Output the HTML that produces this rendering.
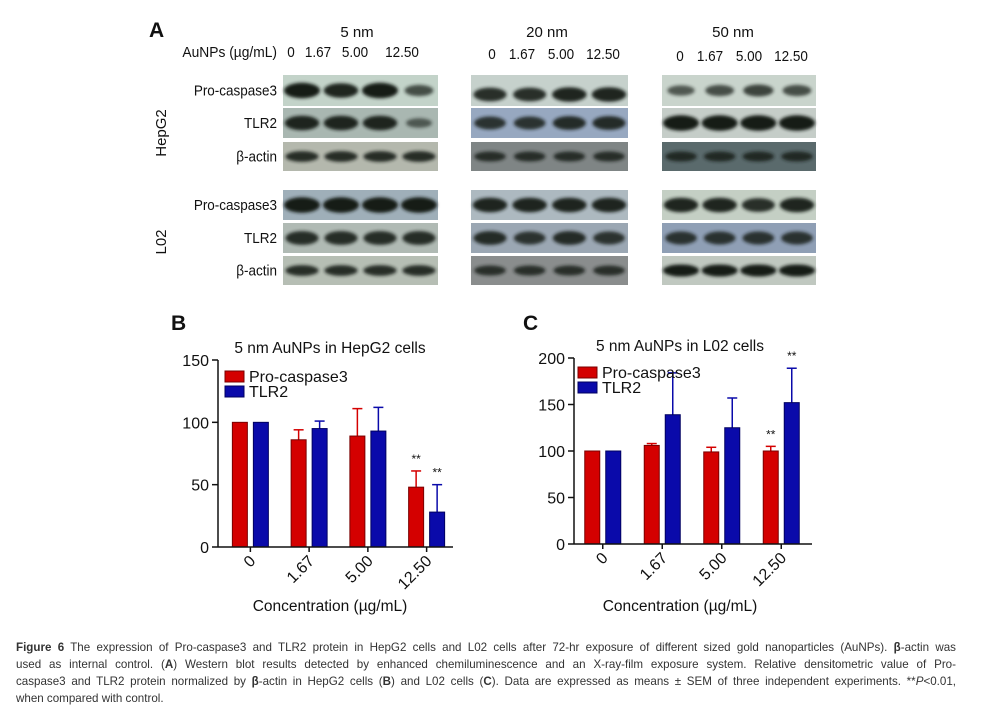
<!DOCTYPE html>
<html><head><meta charset="utf-8"><style>
body{margin:0;background:#fff;width:982px;height:719px;overflow:hidden;font-family:"Liberation Sans",Arial,sans-serif}
svg text{font-family:"Liberation Sans",Arial,sans-serif}
.cap{position:absolute;left:16px;width:940px;font-size:11.6px;color:#333;line-height:17px;top:639px}
.cap div{text-align:justify;text-align-last:justify;white-space:nowrap;overflow:visible}
.cap div.last{text-align-last:left}
</style></head><body>
<svg id="fig" width="982" height="635" style="position:absolute;left:0;top:0">
<defs><filter id="bl" x="-20%" y="-50%" width="140%" height="200%"><feGaussianBlur stdDeviation="1.5"/></filter></defs>
<g id="blot"></g>
<g id="chartB"></g>
<g id="chartC"></g>
</svg>
<div class="cap">
<div><b>Figure 6</b> The expression of Pro-caspase3 and TLR2 protein in HepG2 cells and L02 cells after 72-hr exposure of different sized gold nanoparticles (AuNPs). <b>β</b>-actin was</div>
<div>used as internal control. (<b>A</b>) Western blot results detected by enhanced chemiluminescence and an X-ray-film exposure system. Relative densitometric value of Pro-</div>
<div>caspase3 and TLR2 protein normalized by <b>β</b>-actin in HepG2 cells (<b>B</b>) and L02 cells (<b>C</b>). Data are expressed as means ± SEM of three independent experiments. **<i>P</i>&lt;0.01,</div>
<div class="last">when compared with control.</div>
</div>
<script>
const NS='http://www.w3.org/2000/svg';
function mk(p,tag,a,txt){const e=document.createElementNS(NS,tag);for(const k in a)e.setAttribute(k,a[k]);if(txt!==undefined)e.textContent=txt;p.appendChild(e);return e;}
// ---------- Blot ----------
const blot=document.getElementById('blot');
const panelX=[283,471,662],panelW=[155,157,154];
const rowY=[75,108,142,190,223,256],rowH=[31,30,29,30,30,29];
const rowNames=['Pro-caspase3','TLR2','β-actin','Pro-caspase3','TLR2','β-actin'];
const bg=[['#c3d3c9','#a9b7b1','#b4b8ad','#9fafb9','#b0bab4','#b6beb4'],
['#c6d1cc','#97a8c0','#7f8585','#adb9c0','#9ba7b3','#8a8d8d'],
['#c9d4cc','#c5cdc8','#5a6a6c','#c4cfc4','#8f9fb5','#c0c8c0']];
const bandInt=[[[1,.9,1,.5],[.9,.9,.9,.3],[.8,.8,.8,.8],[1,1,1,1],[.8,.8,.8,.8],[.8,.8,.8,.8]],
[[.8,.8,.9,.9],[.7,.7,.8,.8],[.7,.7,.7,.7],[.9,.9,.9,.9],[.8,.7,.8,.7],[.7,.7,.7,.7]],
[[.4,.5,.6,.5],[1,1,1,1],[.7,.7,.7,.7],[.9,.9,.8,.9],[.7,.7,.7,.7],[1,1,1,1]]];
const mkText=(p,x,y,t,o)=>mk(p,'text',Object.assign({x:x,y:y,'font-size':15,fill:'#111'},o||{}),t);
const cond='scale(0.9,1)';
let t=mkText(blot,149,37,'A',{'font-size':21,'font-weight':'bold'});
['5 nm','20 nm','50 nm'].forEach((s,i)=>{const e=mkText(blot,[357,547,733][i],37,s,{'text-anchor':'middle'});});
t=mkText(blot,0,0,'AuNPs (µg/mL)',{'text-anchor':'end',transform:'translate(277,57) scale(0.92,1)'});
const doseL=['0','1.67','5.00','12.50'];
const doseX=[[291,318,355,402],[492,522,561,603],[680,710,749,791]],doseY=[57,59,61];
doseX.forEach((xs,i)=>xs.forEach((x,j)=>{const e=mkText(blot,0,0,doseL[j],{'text-anchor':'middle',transform:`translate(${x},${doseY[i]}) ${cond}`});}));
rowNames.forEach((n,r)=>{const e=mkText(blot,0,0,n,{'text-anchor':'end',transform:`translate(277,${rowY[r]+rowH[r]/2+5}) ${cond}`});});
t=mkText(blot,0,0,'HepG2',{transform:'translate(166,133) rotate(-90)','text-anchor':'middle'});
t=mkText(blot,0,0,'L02',{transform:'translate(166,242) rotate(-90)','text-anchor':'middle'});
for(let p=0;p<3;p++)for(let r=0;r<6;r++){
 const g=mk(blot,'g',{});
 mk(g,'rect',{x:panelX[p],y:rowY[r],width:panelW[p],height:rowH[r],fill:bg[p][r]});
 const cy=rowY[r]+rowH[r]/2+(p==1&&r==0?4:0);
 for(let l=0;l<4;l++){const k=bandInt[p][r][l];const cx=panelX[p]+19+l*(panelW[p]-38)/3;
  mk(g,'ellipse',{cx:cx,cy:cy,rx:18*(0.6+0.4*k),ry:(r%3==2?5.5:7)*(0.5+0.6*k),fill:'#141a19',opacity:0.45+0.55*k,filter:'url(#bl)'});}
}
// ---------- Bar charts ----------
const categories=['0','1.67','5.00','12.50'];
const b_pro=[100,86,89,48], b_proErr=[0,8,22,13];
const b_tlr=[100,95,93,28], b_tlrErr=[0,6,19,22];
const c_pro=[100,106,99,100], c_proErr=[0,2,5,5];
const c_tlr=[100,139,125,152], c_tlrErr=[0,45,32,37];
const b_ticks=[0,50,100,150], c_ticks=[0,50,100,150,200];
function chart(root,o){
 const y=v=>o.y0-(v/o.max)*(o.y0-o.y1);
 const band=(o.xr-o.xl)/4;
 const x=i=>o.xl+band*i+band/2+o.shift;
 let e=mk(root,'text',{x:o.lx,y:o.ly,'font-size':21,'font-weight':'bold',fill:'#111'},o.letter);
 e=mk(root,'text',{x:o.tx,y:o.ty,'font-size':15.5,'text-anchor':'middle',fill:'#111'},o.title);
 o.ticks.forEach(v=>{mk(root,'line',{x1:o.xl-6,x2:o.xl,y1:y(v),y2:y(v),stroke:'#111','stroke-width':1.5});
  e=mk(root,'text',{x:o.xl-9,y:y(v)+6,'font-size':16,'text-anchor':'end',fill:'#111'},String(v));});
 const bw=15;
 const series=[[o.pro,o.proE,'#d40000','#7a0000',-10.5],[o.tlr,o.tlrE,'#0a0aaa','#000060',10.5]];
 series.forEach(s=>{s[0].forEach((v,i)=>{const cx=x(i)+s[4];
  if(s[1][i]>0){mk(root,'line',{x1:cx,x2:cx,y1:y(v),y2:y(v+s[1][i]),stroke:s[2],'stroke-width':1.5});
   mk(root,'line',{x1:cx-5,x2:cx+5,y1:y(v+s[1][i]),y2:y(v+s[1][i]),stroke:s[2],'stroke-width':1.5});}
  const r=mk(root,'rect',{x:cx-bw/2,y:y(v),width:bw,height:y(0)-y(v),fill:s[2],stroke:s[3],'stroke-width':1});
  });});
 o.stars.forEach(st=>{const v=st[1]==0?o.pro[st[0]]+o.proE[st[0]]:o.tlr[st[0]]+o.tlrE[st[0]];
  e=mk(root,'text',{x:x(st[0])+(st[1]==0?-10.5:10.5),y:y(v)-8,'font-size':12,'text-anchor':'middle',fill:'#111'},'**');});
 mk(root,'line',{x1:o.xl,x2:o.xl,y1:o.y1,y2:o.y0,stroke:'#111','stroke-width':1.5});
 mk(root,'line',{x1:o.xl,x2:o.xr,y1:o.y0,y2:o.y0,stroke:'#111','stroke-width':1.5});
 categories.forEach((c,i)=>{mk(root,'line',{x1:x(i),x2:x(i),y1:o.y0,y2:o.y0+5,stroke:'#111','stroke-width':1.5});
  e=mk(root,'text',{x:0,y:0,'font-size':16,'text-anchor':'end',fill:'#111',transform:`translate(${x(i)+6},${o.y0+15}) rotate(-45)`},c);});
 e=mk(root,'text',{x:o.tx,y:o.xty,'font-size':15.5,'text-anchor':'middle',fill:'#111'},'Concentration (µg/mL)');
 [['Pro-caspase3','#d40000','#7a0000'],['TLR2','#0a0aaa','#000060']].forEach((L,k)=>{
  const g=mk(root,'g',{});
  mk(g,'rect',{x:o.gx,y:o.gy+k*15,width:19,height:11,fill:L[1],stroke:L[2]});
  mk(g,'text',{x:o.gx+24,y:o.gy+k*15+11,'font-size':16,fill:'#111'},L[0]);});
}
chart(document.getElementById('chartB'),{letter:'B',lx:171,ly:330,title:'5 nm AuNPs in HepG2 cells',tx:330,ty:353,xty:611,
 xl:218,xr:453,y0:547,y1:360,max:150,ticks:b_ticks,shift:3,pro:b_pro,proE:b_proErr,tlr:b_tlr,tlrE:b_tlrErr,stars:[[3,0],[3,1]],gx:225,gy:371});
chart(document.getElementById('chartC'),{letter:'C',lx:523,ly:330,title:'5 nm AuNPs in L02 cells',tx:680,ty:351,xty:611,
 xl:574,xr:812,y0:544,y1:358,max:200,ticks:c_ticks,shift:-1,pro:c_pro,proE:c_proErr,tlr:c_tlr,tlrE:c_tlrErr,stars:[[3,0],[3,1]],gx:578,gy:367});
</script>
</body></html>
